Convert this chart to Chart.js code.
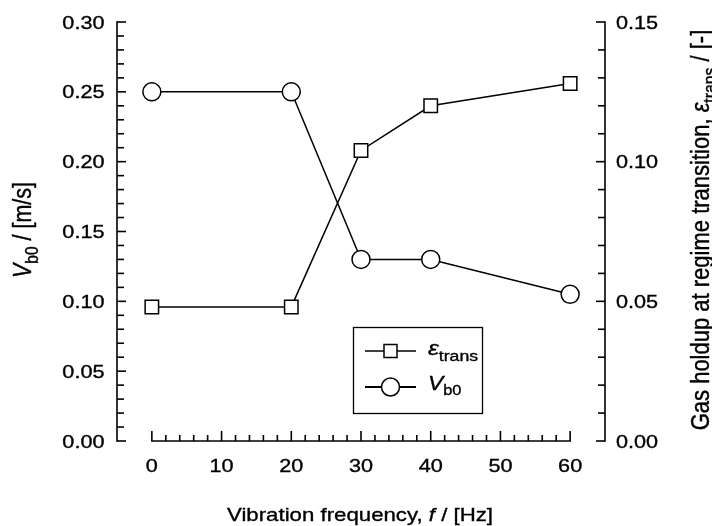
<!DOCTYPE html>
<html lang="en">
<head>
<meta charset="UTF-8">
<title>Bubble rise velocity and transition holdup vs vibration frequency</title>
<script src="https://cdn.jsdelivr.net/npm/chart.js"></script>
<style>
  html, body { margin: 0; padding: 0; background: #fff; }
  #wrap { width: 712px; height: 526px; }
</style>
</head>
<body>
<div id="wrap"><canvas id="chart" width="712" height="526"></canvas></div>
<script>
// values
const freq = [0, 20, 30, 40, 60];                       // f [Hz]
const epsTrans = [0.048, 0.048, 0.104, 0.120, 0.128];   // right axis, [-]
const vb0 = [0.25, 0.25, 0.13, 0.13, 0.105];            // left axis, [m/s]

const xTicks = [0, 10, 20, 30, 40, 50, 60];
const leftTicks = [0, 0.05, 0.10, 0.15, 0.20, 0.25, 0.30];
const rightTicks = [0, 0.05, 0.10, 0.15];

const FONT = '"Liberation Sans", Arial, Helvetica, sans-serif';
const STRETCH = 1.17; // the scanned figure is a bit wider than tall

function fontFor(style, size) {
    if (style === 'sub') return (size * 0.72).toFixed(1) + 'px ' + FONT;
    return (style === 'i' ? 'italic ' : '') + size + 'px ' + FONT;
}

// parts: [[text, style], ...], style '' | 'i' | 'sub'
function drawRich(ctx, parts, x, y, size, align, rotated) {
    ctx.save();
    ctx.translate(x, y);
    if (rotated) {
        ctx.rotate(-Math.PI / 2);
        ctx.scale(1, STRETCH);
    } else {
        ctx.scale(STRETCH, 1);
    }
    ctx.textBaseline = 'alphabetic';
    ctx.textAlign = 'left';
    ctx.lineWidth = 0.35;
    ctx.strokeStyle = '#000';
    let w = 0;
    parts.forEach(p => { ctx.font = fontFor(p[1], size); w += ctx.measureText(p[0]).width; });
    let cx = align === 'center' ? -w / 2 : align === 'right' ? -w : 0;
    parts.forEach(p => {
        ctx.font = fontFor(p[1], size);
        const dy = p[1] === 'sub' ? size * 0.28 : 0;
        ctx.fillText(p[0], cx, dy);
        ctx.strokeText(p[0], cx, dy);
        cx += ctx.measureText(p[0]).width;
    });
    ctx.restore();
}

function seg(ctx, x1, y1, x2, y2) {
    ctx.beginPath();
    ctx.moveTo(x1, y1);
    ctx.lineTo(x2, y2);
    ctx.stroke();
}

const paperAxes = {
    id: 'paperAxes',
    afterDraw(chart) {
        const ctx = chart.ctx;
        const a = chart.chartArea;
        const x = chart.scales.x, yL = chart.scales.yL, yR = chart.scales.yR;
        ctx.save();
        ctx.strokeStyle = '#000';
        ctx.fillStyle = '#000';
        ctx.lineWidth = 1.6;

        // left axis, ticks pointing in
        seg(ctx, a.left, yL.getPixelForValue(0.30) - 0.8, a.left, yL.getPixelForValue(0) + 0.8);
        for (let i = 0; i <= 30; i++) {
            const y = yL.getPixelForValue(i / 100);
            seg(ctx, a.left, y, a.left + (i % 5 === 0 ? 9 : 7), y);
        }
        // right axis
        seg(ctx, a.right, yR.getPixelForValue(0.15) - 0.8, a.right, yR.getPixelForValue(0) + 0.8);
        for (let i = 0; i <= 15; i++) {
            const y = yR.getPixelForValue(i / 100);
            seg(ctx, a.right, y, a.right - (i % 5 === 0 ? 9 : 7), y);
        }
        // x axis only spans the data range
        seg(ctx, x.getPixelForValue(0) - 0.8, a.bottom, x.getPixelForValue(60) + 0.8, a.bottom);
        for (let v = 0; v <= 60; v += 2) {
            const px = x.getPixelForValue(v);
            seg(ctx, px, a.bottom, px, a.bottom - (v % 10 === 0 ? 10 : 6));
        }

        // tick labels
        const ts = 18.5;
        leftTicks.forEach(v => drawRich(ctx, [[v.toFixed(2), '']], a.left - 12.5, yL.getPixelForValue(v) + 6.5, ts, 'right'));
        rightTicks.forEach(v => drawRich(ctx, [[v.toFixed(2), '']], a.right + 11, yR.getPixelForValue(v) + 6.5, ts, 'left'));
        xTicks.forEach(v => drawRich(ctx, [[String(v), '']], x.getPixelForValue(v), 472, ts, 'center'));

        // axis titles
        drawRich(ctx, [['Vibration frequency, ', ''], ['f', 'i'], [' / [Hz]', '']], 360, 521, 19, 'center');
        drawRich(ctx, [['V', 'i'], ['b0', 'sub'], [' / [m/s]', '']], 31, 230, 21.5, 'center', true);
        drawRich(ctx, [['Gas holdup at regime transition, ', ''], ['\u03b5', 'i'], ['trans', 'sub'], [' / [-]', '']],
            709, 230, 22, 'center', true);

        // legend
        ctx.lineWidth = 1.3;
        ctx.strokeRect(353.5, 327.5, 129, 86);
        ctx.lineWidth = 1.5;
        const rows = [351, 387];
        seg(ctx, 365, rows[0], 416, rows[0]);
        ctx.fillStyle = '#fff';
        ctx.fillRect(384, rows[0] - 6.5, 13, 13);
        ctx.strokeRect(384, rows[0] - 6.5, 13, 13);
        ctx.lineWidth = 1.8;
        seg(ctx, 365, rows[1], 416, rows[1]);
        ctx.lineWidth = 1.5;
        ctx.beginPath();
        ctx.arc(390.5, rows[1], 9, 0, Math.PI * 2);
        ctx.fill();
        ctx.stroke();
        ctx.fillStyle = '#000';
        drawRich(ctx, [['\u03b5', 'i'], ['trans', 'sub']], 428, 355, 21, 'left');
        drawRich(ctx, [['V', 'i'], ['b0', 'sub']], 428, 390, 19.5, 'left');
        ctx.restore();
    }
};

const ctx = document.getElementById('chart').getContext('2d');
new Chart(ctx, {
    type: 'line',
    data: {
        datasets: [{
            label: 'eps_trans',
            data: freq.map((f, i) => ({ x: f, y: epsTrans[i] })),
            yAxisID: 'yR',
            borderColor: '#000',
            borderWidth: 1.5,
            pointStyle: 'rect',
            pointRadius: 9.5,
            pointBackgroundColor: '#fff',
            pointBorderColor: '#000',
            pointBorderWidth: 1.5,
            tension: 0
        }, {
            label: 'Vb0',
            data: freq.map((f, i) => ({ x: f, y: vb0[i] })),
            yAxisID: 'yL',
            borderColor: '#000',
            borderWidth: 1.5,
            pointStyle: 'circle',
            pointRadius: 9,
            pointBackgroundColor: '#fff',
            pointBorderColor: '#000',
            pointBorderWidth: 1.5,
            tension: 0
        }]
    },
    options: {
        responsive: false,
        animation: false,
        devicePixelRatio: 1,
        layout: { padding: { left: 117, right: 107, top: 22, bottom: 85 } },
        scales: {
            x: { type: 'linear', min: -5, max: 65, display: false },
            yL: { type: 'linear', position: 'left', min: 0, max: 0.30, display: false },
            yR: { type: 'linear', position: 'right', min: 0, max: 0.15, display: false }
        },
        plugins: {
            legend: { display: false },
            tooltip: { enabled: false }
        }
    },
    plugins: [paperAxes]
});
</script>
</body>
</html>
